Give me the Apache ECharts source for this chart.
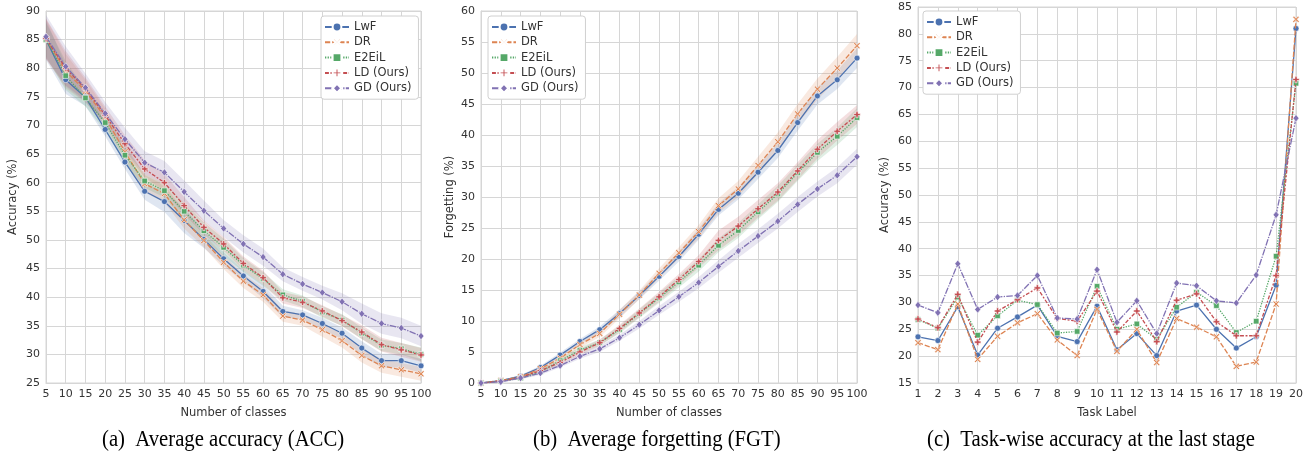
<!DOCTYPE html>
<html><head><meta charset="utf-8">
<script src="https://cdn.jsdelivr.net/npm/echarts@6/dist/echarts.min.js"></script>
<style>html,body{margin:0;padding:0;background:#fff}#c{width:1306px;height:456px}</style>
</head><body><div id="c"></div>
<script>
// ---------- data ----------
const methods = ['LwF', 'DR', 'E2EiL', 'LD (Ours)', 'GD (Ours)'];
const classes = [5,10,15,20,25,30,35,40,45,50,55,60,65,70,75,80,85,90,95,100];
const tasks = [1,2,3,4,5,6,7,8,9,10,11,12,13,14,15,16,17,18,19,20];

// (a) average accuracy
const accLwF   = [85.0,78.0,74.9,69.3,63.6,58.5,56.7,53.4,50.1,46.7,43.7,41.0,37.5,36.9,35.4,33.7,31.1,28.9,28.9,28.0];
const accDR    = [85.1,79.5,76.0,71.4,65.4,59.8,58.1,53.5,49.9,46.1,42.8,40.4,36.7,36.0,34.3,32.4,29.8,28.0,27.3,26.6];
const accE2EiL = [85.0,78.7,74.8,70.5,64.8,60.3,58.6,55.0,51.6,48.7,45.6,43.2,40.4,39.3,37.4,36.0,33.7,31.6,31.0,30.0];
const accLD    = [85.2,80.0,76.4,71.8,66.8,62.4,60.0,56.0,52.2,49.3,45.9,43.4,39.9,39.1,37.6,35.9,33.9,31.7,30.8,29.9];
const accGD    = [85.5,80.3,76.6,72.1,67.6,63.5,61.8,58.4,55.1,52.0,49.3,47.0,44.0,42.3,40.8,39.2,37.1,35.4,34.6,33.2];
// (a) band half-widths
const accLwFErr   = [3.5,2.5,1.5,1.2,1.2,1.5,1.8,2.2,1.5,1.2,1.0,1.2,1.0,0.8,1.0,1.0,1.2,1.2,1.2,1.2];
const accDRErr    = [3.5,3.0,2.0,1.5,1.5,1.5,1.5,1.5,1.2,1.2,1.2,1.2,1.0,1.0,1.2,1.2,1.2,1.2,1.2,1.2];
const accE2EiLErr = [3.0,2.5,1.5,1.5,1.5,1.2,1.2,1.5,1.5,1.5,1.2,1.2,1.0,1.0,1.0,1.0,1.0,1.0,1.0,1.2];
const accLDErr    = [3.5,3.0,2.0,1.5,1.5,1.5,1.5,1.5,1.2,1.2,1.2,1.2,1.0,1.0,1.0,1.0,1.2,1.2,1.2,1.2];
const accGDErr    = [3.8,3.5,2.5,2.0,2.0,2.0,2.0,2.0,1.8,1.5,1.5,1.5,1.2,1.2,1.2,1.5,1.8,1.8,1.8,1.8];

// (b) average forgetting
const fgtLwF   = [0,0.4,1.1,2.5,4.5,6.7,8.6,11.2,14.1,17.2,20.4,24.0,28.0,30.6,34.0,37.5,42.0,46.3,48.9,52.4];
const fgtDR    = [0,0.4,1.0,2.3,4.0,6.2,8.0,11.1,14.2,17.7,21.0,24.4,28.6,31.3,35.1,38.9,43.4,47.4,50.8,54.4];
const fgtE2EiL = [0,0.3,0.8,1.8,3.6,5.3,6.5,8.6,11.2,13.7,16.3,19.0,22.2,24.6,27.6,30.5,33.9,37.2,39.8,42.8];
const fgtLD    = [0,0.3,0.9,2.0,3.3,5.0,6.5,8.8,11.3,13.9,16.7,19.6,23.0,25.3,28.1,30.8,34.2,37.7,40.6,43.3];
const fgtGD    = [0,0.2,0.8,1.6,2.8,4.3,5.5,7.3,9.4,11.7,13.9,16.2,18.8,21.3,23.7,26.1,28.8,31.3,33.5,36.5];
// (b) band half-widths
const fgtLwFErr   = [0,0.1,0.2,0.3,0.4,0.4,0.5,0.6,0.6,0.7,0.8,0.9,1.0,1.0,1.1,1.2,1.3,1.4,1.5,1.6];
const fgtDRErr    = [0,0.1,0.2,0.3,0.4,0.5,0.6,0.7,0.7,0.8,0.9,1.1,1.2,1.3,1.4,1.5,1.6,1.7,1.8,1.9];
const fgtE2EiLErr = [0,0.1,0.2,0.3,0.4,0.5,0.5,0.6,0.7,0.8,0.9,1.0,1.1,1.2,1.2,1.3,1.3,1.4,1.4,1.5];
const fgtLDErr    = [0,0.1,0.2,0.3,0.4,0.5,0.5,0.6,0.7,0.8,0.9,1.0,1.6,1.5,1.4,1.4,1.4,1.5,1.5,1.5];
const fgtGDErr    = [0,0.1,0.2,0.3,0.3,0.4,0.5,0.5,0.6,0.7,0.8,0.9,1.0,1.1,1.1,1.2,1.2,1.2,1.3,1.3];

// (c) task-wise accuracy at the last stage
const taskLwF   = [23.6,22.9,29.2,20.2,25.2,27.3,29.5,23.7,22.7,29.3,21.2,24.2,20.1,28.4,29.5,25.0,21.5,23.6,33.2,81.0];
const taskDR    = [22.5,21.2,29.7,19.4,23.7,26.2,27.9,23.0,20.1,28.7,20.9,25.0,18.8,27.0,25.4,23.6,18.1,18.9,29.7,82.7];
const taskE2EiL = [26.8,25.2,31.0,23.9,27.5,30.4,29.6,24.3,24.6,33.0,25.0,26.0,23.1,29.1,31.9,29.4,24.4,26.5,38.6,70.8];
const taskLD    = [26.9,25.3,31.5,22.6,28.4,30.5,32.7,27.0,26.5,32.1,24.5,28.4,22.7,30.4,31.6,26.4,23.8,23.8,35.0,71.5];
const taskGD    = [29.5,28.1,37.2,28.7,31.0,31.3,35.0,27.1,26.9,36.1,26.3,30.3,24.2,33.6,33.1,30.3,29.9,35.1,46.3,64.3];

const captions = ['(a)  Average accuracy (ACC)', '(b)  Average forgetting (FGT)', '(c)  Task-wise accuracy at the last stage'];

// ---------- style ----------
const colors = ['#4C72B0', '#DD8452', '#55A868', '#C44E52', '#8172B3'];
const lw = 1.3;
const dashes = ['solid', [4*lw,1.5*lw], [1*lw,1*lw], [3*lw,1.25*lw,1.5*lw,1.25*lw], [5*lw,1*lw,1*lw,1*lw]];
const symX = 'path://M0,1 L1,0 L3,2 L5,0 L6,1 L4,3 L6,5 L5,6 L3,4 L1,6 L0,5 L2,3 Z';
const symP = 'path://M2,0 H4 V2 H6 V4 H4 V6 H2 V4 H0 V2 H2 Z';
const symbols = ['circle', symX, 'rect', symP, 'diamond'];
const symSizes = [6, 6.5, 5.5, 6.5, [6, 7.5]];

const accSets = [accLwF, accDR, accE2EiL, accLD, accGD];
const accErrs = [accLwFErr, accDRErr, accE2EiLErr, accLDErr, accGDErr];
const fgtSets = [fgtLwF, fgtDR, fgtE2EiL, fgtLD, fgtGD];
const fgtErrs = [fgtLwFErr, fgtDRErr, fgtE2EiLErr, fgtLDErr, fgtGDErr];
const taskSets = [taskLwF, taskDR, taskE2EiL, taskLD, taskGD];

function hexA(h, a) {
  const r = parseInt(h.slice(1,3),16), g = parseInt(h.slice(3,5),16), b = parseInt(h.slice(5,7),16);
  return `rgba(${r},${g},${b},${a})`;
}

const series = [];
function addBands(idx, xs, sets, errs, tag) {
  sets.forEach((vals, i) => {
    const rows = vals.map((v, k) => [xs[k], v - errs[i][k], v + errs[i][k]]);
    series.push({
      name: '_band' + tag + i, type: 'custom', xAxisIndex: idx, yAxisIndex: idx, silent: true, clip: true, z: 1,
      data: rows, encode: { x: 0, y: [1, 2] },
      renderItem: function (params, api) {
        if (params.dataIndex !== 0) return null;
        const up = rows.map(r => api.coord([r[0], r[2]]));
        const dn = rows.map(r => api.coord([r[0], r[1]])).reverse();
        return { type: 'polygon', shape: { points: up.concat(dn) }, style: { fill: hexA(colors[i], 0.18) } };
      }
    });
  });
}
function addLines(idx, xs, sets) {
  sets.forEach((vals, i) => {
    series.push({ name: methods[i], type: 'line', xAxisIndex: idx, yAxisIndex: idx,
      data: vals.map((v, k) => [xs[k], v]),
      symbol: symbols[i], symbolSize: symSizes[i], showAllSymbol: true,
      lineStyle: { color: colors[i], width: lw, type: dashes[i] },
      itemStyle: { color: colors[i], borderColor: '#fff', borderWidth: 0.6 },
      z: 3 + i });
  });
}
addBands(0, classes, accSets, accErrs, 'a');
addBands(1, classes, fgtSets, fgtErrs, 'b');
addLines(0, classes, accSets);
addLines(1, classes, fgtSets);
addLines(2, tasks, taskSets);

const font = 'DejaVu Sans';
const txt = '#333';
const gridLine = '#d6d6d6';
function xAxis(idx, min, max, interval, name) {
  return { type: 'value', gridIndex: idx, min, max, interval, name, nameLocation: 'middle', nameGap: 24,
    nameTextStyle: { fontFamily: font, fontSize: 11.5, color: txt },
    axisLine: { show: true, lineStyle: { color: gridLine } }, axisTick: { show: false },
    axisLabel: { fontFamily: font, fontSize: 11, color: txt, margin: 6 },
    splitLine: { show: true, lineStyle: { color: gridLine, width: 1 } } };
}
function yAxis(idx, min, max, name, gap) {
  return { type: 'value', gridIndex: idx, min, max, interval: 5, name, nameLocation: 'middle', nameGap: gap,
    nameTextStyle: { fontFamily: font, fontSize: 11.5, color: txt },
    axisLine: { show: true, lineStyle: { color: gridLine } }, axisTick: { show: false },
    axisLabel: { fontFamily: font, fontSize: 11, color: txt, margin: 6 },
    splitLine: { show: true, lineStyle: { color: gridLine, width: 1 } } };
}
function legend(left, top) {
  return { data: methods, orient: 'vertical', left, top, itemWidth: 24, itemHeight: 11, itemGap: 3.3,
    padding: [5, 7, 5, 3], backgroundColor: '#fff', borderColor: '#d0d0d0', borderWidth: 1, borderRadius: 3,
    textStyle: { fontFamily: font, fontSize: 11.5, color: txt }, selectedMode: false };
}
function caption(i, left) {
  return { type: 'text', left, top: 428, scaleX: 0.9,
    style: { text: captions[i], font: '23px "Liberation Serif"', fill: '#000' } };
}

const option = {
  animation: false,
  backgroundColor: '#fff',
  grid: [
    { left: 46, top: 11, width: 375, height: 372, show: true, borderColor: gridLine, borderWidth: 1 },
    { left: 481, top: 11, width: 376, height: 372, show: true, borderColor: gridLine, borderWidth: 1 },
    { left: 918, top: 7, width: 378, height: 376, show: true, borderColor: gridLine, borderWidth: 1 }
  ],
  xAxis: [ xAxis(0, 5, 100, 5, 'Number of classes'), xAxis(1, 5, 100, 5, 'Number of classes'), xAxis(2, 1, 20, 1, 'Task Label') ],
  yAxis: [ yAxis(0, 25, 90, 'Accuracy (%)', 27), yAxis(1, 0, 60, 'Forgetting (%)', 25), yAxis(2, 15, 85, 'Accuracy (%)', 27) ],
  legend: [ legend(321, 16), legend(488, 16), legend(923, 11) ],
  series,
  graphic: [ caption(0, 102), caption(1, 533), caption(2, 927) ]
};
echarts.init(document.getElementById('c'), null, { renderer: 'canvas' }).setOption(option);
</script></body></html>
